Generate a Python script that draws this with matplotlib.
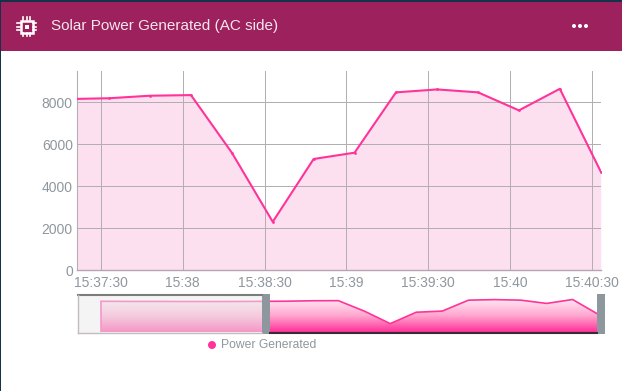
import numpy as np
import matplotlib
matplotlib.use('Agg')
import matplotlib.pyplot as plt
from matplotlib.patches import Rectangle, Circle

W, H = 622, 391

# seconds after 15:37:00
times = [18.0, 33.0, 48.0, 63.0, 78.0, 93.0, 108.0, 123.0, 138.2, 153.3, 168.3, 183.3, 198.3, 213.3]
power = [8160, 8200, 8320, 8350, 5600, 2300, 5300, 5600, 8480, 8620, 8480, 7620, 8650, 4700]
# older samples, only seen in the navigator under the mask
old_times = [-74.0, -56.7, -41.7, -26.7, -11.7, 3.3]
old_power = [8180, 8150, 8150, 8120, 8120, 8130]

tick_pos = [30, 60, 90, 120, 150, 180, 210]
tick_lab = ['15:37:30', '15:38', '15:38:30', '15:39', '15:39:30', '15:40', '15:40:30']
y_ticks = [0, 2000, 4000, 6000, 8000]

PINK = '#ff3399'
GREY = '#8f979e'
plt.rcParams['font.family'] = ['Liberation Sans', 'DejaVu Sans']


def px_axes(fig, x0, y0, x1, y1, **kw):
    # axes placed by pixel box, y measured from the top
    return fig.add_axes([x0 / W, 1 - y1 / H, (x1 - x0) / W, (y1 - y0) / H], **kw)


fig = plt.figure(figsize=(W / 100, H / 100), dpi=100, facecolor='white')

# card chrome in pixel coords
bg = fig.add_axes([0, 0, 1, 1])
bg.set_xlim(0, W)
bg.set_ylim(H, 0)
bg.axis('off')
bg.add_patch(Rectangle((0, 0), W, 2, color='#16324a', lw=0))
bg.add_patch(Rectangle((0, 0), 1, H, color='#16324a', lw=0))
bg.add_patch(Rectangle((1, 2), W, 49, color='#9c215c', lw=0))
bg.text(51, 26, 'Solar Power Generated (AC side)', color='#f6e6ee', fontsize=11, va='center')
for cx in (574, 580, 586):
    bg.add_patch(Circle((cx, 26), 2, color='white', lw=0))
# chip icon
bg.add_patch(Rectangle((20.5, 20.5), 12, 12, fc='none', ec='white', lw=1.8))
bg.add_patch(Rectangle((24.5, 24.5), 4, 4, fc='white', ec='none'))
for d in (23, 26.5, 30):
    bg.plot([d, d], [17, 20], color='white', lw=1.2)
    bg.plot([d, d], [33, 36], color='white', lw=1.2)
    bg.plot([17, 20], [d, d], color='white', lw=1.2)
    bg.plot([33, 36], [d, d], color='white', lw=1.2)

# main chart
ax = px_axes(fig, 77, 71, 601, 270)
ax.patch.set_alpha(0)
ax.set_xlim(21.2, 213.4)
ax.set_ylim(0, 9500)
ax.fill_between(times, power, 0, color='#fde0f0', lw=0, zorder=1)
ax.plot(times, power, color=PINK, lw=1.5, zorder=3, marker='o', ms=2, mew=0)
ax.set_xticks(tick_pos)
ax.set_xticklabels(tick_lab)
ax.set_yticks(y_ticks)
ax.grid(True, color='#b2aeb2', lw=0.72, zorder=2)
ax.set_axisbelow(False)
ax.tick_params(length=0, labelsize=10, labelcolor=GREY, pad=4)
ax.tick_params(axis='y', pad=3)
for s in ('top', 'right'):
    ax.spines[s].set_visible(False)
ax.spines['left'].set_color('#b4b0b4')
ax.spines['left'].set_linewidth(0.8)
ax.spines['bottom'].set_color('#b9a3b0')
ax.spines['bottom'].set_linewidth(1.0)

# navigator
nav = px_axes(fig, 77.5, 294, 601, 333.5)
nav.patch.set_alpha(0)
nav_t = old_times + times
nav_p = old_power + power
grad = np.linspace(0, 1, 64)[:, None]
cmap = matplotlib.colors.LinearSegmentedColormap.from_list('nav', ['#ffe8f2', '#ffa6cf', PINK])
im = nav.imshow(grad, aspect='auto', cmap=cmap, extent=[-87.6, 214.7, 0, 8650], zorder=1)
poly = nav.fill_between(nav_t, nav_p, 0, color='none', lw=0)
im.set_clip_path(poly.get_paths()[0], transform=nav.transData)
nav.plot(nav_t, nav_p, color=PINK, lw=1.2, zorder=2)
nav.vlines(old_times[0], 0, old_power[0], color=PINK, lw=1.2, zorder=2)
nav.set_xlim(-87.6, 214.7)
nav.set_ylim(-300, 10100)
nav.set_xticks([])
nav.set_yticks([])
for s in nav.spines.values():
    s.set_visible(False)

# navigator chrome over the series
bg2 = fig.add_axes([0, 0, 1, 1])
bg2.patch.set_alpha(0)
bg2.set_xlim(0, W)
bg2.set_ylim(H, 0)
bg2.axis('off')
bg2.add_patch(Rectangle((77.5, 294), 185, 39, fc='#ececec', alpha=0.55, lw=0))
bg2.plot([77.5, 262], [295, 295], color='#7c7c7c', lw=1.5)
bg2.plot([77.5, 77.5], [295, 333], color='#c4bcc2', lw=1)
bg2.plot([77.5, 262], [333, 333], color='#c4bcc2', lw=1)
bg2.plot([270, 597], [333, 333], color='#3a2a33', lw=1.5)
bg2.add_patch(Rectangle((262, 294), 8, 40, color=GREY, lw=0))
bg2.add_patch(Rectangle((597, 294), 8, 40, color=GREY, lw=0))

# legend
bg2.add_patch(Circle((212, 345), 4, color=PINK, lw=0))
bg2.text(221, 345, 'Power Generated', color=GREY, fontsize=8.75, va='center')

fig.savefig('out.png', dpi=100)
